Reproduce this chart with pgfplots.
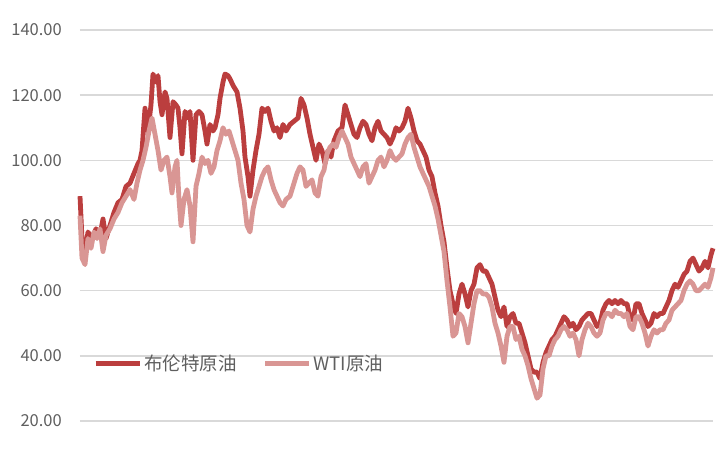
\documentclass[border=0pt]{standalone}
\usepackage{pgfplots}
\pgfplotsset{compat=1.18}
\usepackage{fontspec}
\setmainfont{Noto Sans CJK SC}
\definecolor{brent}{RGB}{187,62,62}
\definecolor{wti}{RGB}{217,150,148}
\definecolor{lbl}{RGB}{95,95,95}
\definecolor{gridc}{RGB}{217,217,217}
\begin{document}
\begin{tikzpicture}
\begin{axis}[
  at={(0pt,0pt)}, anchor=south west,
  scale only axis, width=633pt, height=391pt,
  xmin=80, xmax=713, ymin=20, ymax=140,
  xtick=\empty, ytick={20,40,...,140},
  axis line style={draw=none}, major tick length=0pt,
  ymajorgrids, grid style={color=gridc, line width=1.6pt},
  clip=false,
  yticklabel style={font=\fontsize{16.5}{18}\selectfont, text=lbl, inner sep=0pt, anchor=east, xshift=-18pt},
  /pgf/number format/.cd, fixed, fixed zerofill, precision=2, assume math mode=true,
  /pgfplots/.cd,
  legend columns=2,
  legend style={at={(0.0205,0.148)}, anchor=west, draw=none, fill=none, inner sep=0pt,
    font=\fontsize{18.5}{20}\selectfont, text=lbl,
    /tikz/every even column/.append style={column sep=24pt}},
  legend cell align=left,
  legend image code/.code={\draw[#1, line width=5pt] (0pt,0pt) -- (44pt,0pt);},
]
\addplot[brent, line width=4.8pt, line join=round] coordinates {
(80,89)(82,76)(85,72)(88,78)(92,76)(96,79)(100,77)(103,82)(106,76)(110,80)(114,84)(118,87)(122,88)(126,92)(130,93)(134,96)(138,99)(140,100)(142,103)(145,116)(148,109)(151,117)(153,126.5)(156,124)(158,126)(160,118)(162,114)(165,121)(167,119)(170,107)(173,118)(176,117)(178,116)(180,110)(182,102)(185,115)(188,113)(190,115)(193,100)(196,114)(199,115)(202,114)(205,109)(207,105)(210,111)(213,109)(215,110)(218,114)(220,119)(223,124)(225,126.5)(228,126)(230,125)(233,123)(237,121)(240,116)(243,109)(245,101)(248,95)(250,89)(253,97)(256,103)(259,108)(262,116)(265,115)(268,116)(271,112)(274,109)(277,110)(280,107)(283,111)(286,109)(290,111)(294,112)(298,113)(301,119)(304,117)(307,113)(310,108)(313,104)(316,100)(319,105)(322,103)(325,99)(328,103)(331,101)(334,106)(338,109)(342,110)(345,117)(348,114)(351,111)(354,108)(357,107)(360,110)(363,112)(366,111)(369,108)(372,106)(375,110)(378,112)(381,109)(384,108)(387,107)(390,105)(393,107)(396,110)(399,109)(402,110)(405,112)(408,116)(411,113)(414,109)(417,106)(420,105)(423,103)(426,101)(429,97)(432,95)(435,90)(438,86)(441,80)(444,75)(447,67)(450,60)(453,56)(456,53)(459,59)(462,62)(465,59)(468,55)(471,60)(474,62)(477,67)(480,68)(483,66)(486,66)(489,64)(492,62)(495,58)(498,54)(501,52)(504,55)(507,49)(510,52)(513,53)(516,50)(519,50)(522,47)(525,44)(528,40)(531,36)(534,35)(537,35)(540,33)(543,38)(546,41)(549,43)(552,45)(555,46)(558,48)(561,50)(564,52)(567,51)(570,49)(573,50)(576,48)(579,49)(582,51)(585,52)(588,53)(591,53)(594,51)(597,49)(600,50)(603,54)(606,56)(609,57)(612,56)(615,57)(618,56)(621,57)(624,56)(627,56)(630,52)(633,51)(636,56)(639,56)(642,53)(645,51)(648,49)(651,50)(654,53)(657,52)(660,53)(663,53)(666,55)(669,57)(672,60)(675,62)(678,61)(681,63)(684,65)(687,66)(690,69)(693,70)(696,68)(699,66)(702,67)(705,69)(708,67)(711,71)(713,73)
};
\addlegendentry{布伦特原油}
\addplot[wti, line width=4.8pt, line join=round] coordinates {
(80,83)(82,70)(85,68)(88,76)(91,73)(94,78)(97,76)(100,79)(103,72)(106,77)(110,79)(114,82)(118,84)(122,87)(126,89)(130,91)(134,88)(137,93)(140,97)(143,100)(146,104)(149,109)(152,113)(155,108)(158,103)(161,97)(164,100)(167,101)(170,95)(172,90)(175,98)(177,100)(179,88)(181,80)(184,88)(187,91)(190,86)(193,75)(196,92)(199,96)(202,101)(205,99)(208,100)(211,96)(214,98)(217,103)(220,106)(223,110)(226,108)(229,109)(232,106)(235,103)(238,100)(241,93)(244,88)(247,80)(250,78)(253,85)(256,89)(259,92)(262,95)(265,97)(268,98)(271,94)(274,91)(277,89)(280,87)(283,86)(286,88)(290,89)(294,93)(297,96)(300,98)(303,97)(306,92)(309,93)(312,94)(315,90)(318,89)(321,95)(324,97)(327,102)(330,104)(333,105)(336,104)(339,107)(342,109)(345,107)(348,105)(351,101)(354,99)(357,97)(360,95)(363,98)(366,99)(369,93)(372,95)(375,97)(378,100)(381,101)(384,98)(387,100)(390,103)(393,101)(396,100)(399,101)(402,102)(405,105)(408,107)(411,108)(414,104)(417,101)(420,98)(423,96)(426,94)(429,92)(432,89)(435,86)(438,82)(441,77)(444,72)(447,63)(450,55)(453,46)(456,47)(459,53)(462,52)(465,49)(468,44)(471,50)(474,56)(477,60)(480,60)(483,59)(486,59)(489,58)(492,55)(495,50)(498,47)(501,43)(504,38)(507,46)(510,49)(513,49)(516,45)(519,46)(522,42)(525,40)(528,37)(531,33)(534,30)(537,27)(540,28)(543,36)(546,40)(549,40)(552,43)(555,45)(558,46)(561,48)(564,49)(567,48)(570,46)(573,47)(576,45)(579,40)(582,45)(585,48)(588,50)(591,49)(594,47)(597,46)(600,47)(603,51)(606,53)(609,53)(612,52)(615,54)(618,53)(621,53)(624,52)(627,53)(630,49)(633,48)(636,52)(639,52)(642,50)(645,47)(648,43)(651,46)(654,48)(657,47)(660,48)(663,48)(666,50)(669,51)(672,54)(675,55)(678,56)(681,57)(684,60)(687,62)(690,63)(693,62)(696,60)(699,60)(702,61)(705,62)(708,61)(711,64)(713,67)
};
\addlegendentry{WTI原油}
\end{axis}
\path[use as bounding box] (-80pt,-37pt) rectangle (640pt,421pt);
\end{tikzpicture}
\end{document}
